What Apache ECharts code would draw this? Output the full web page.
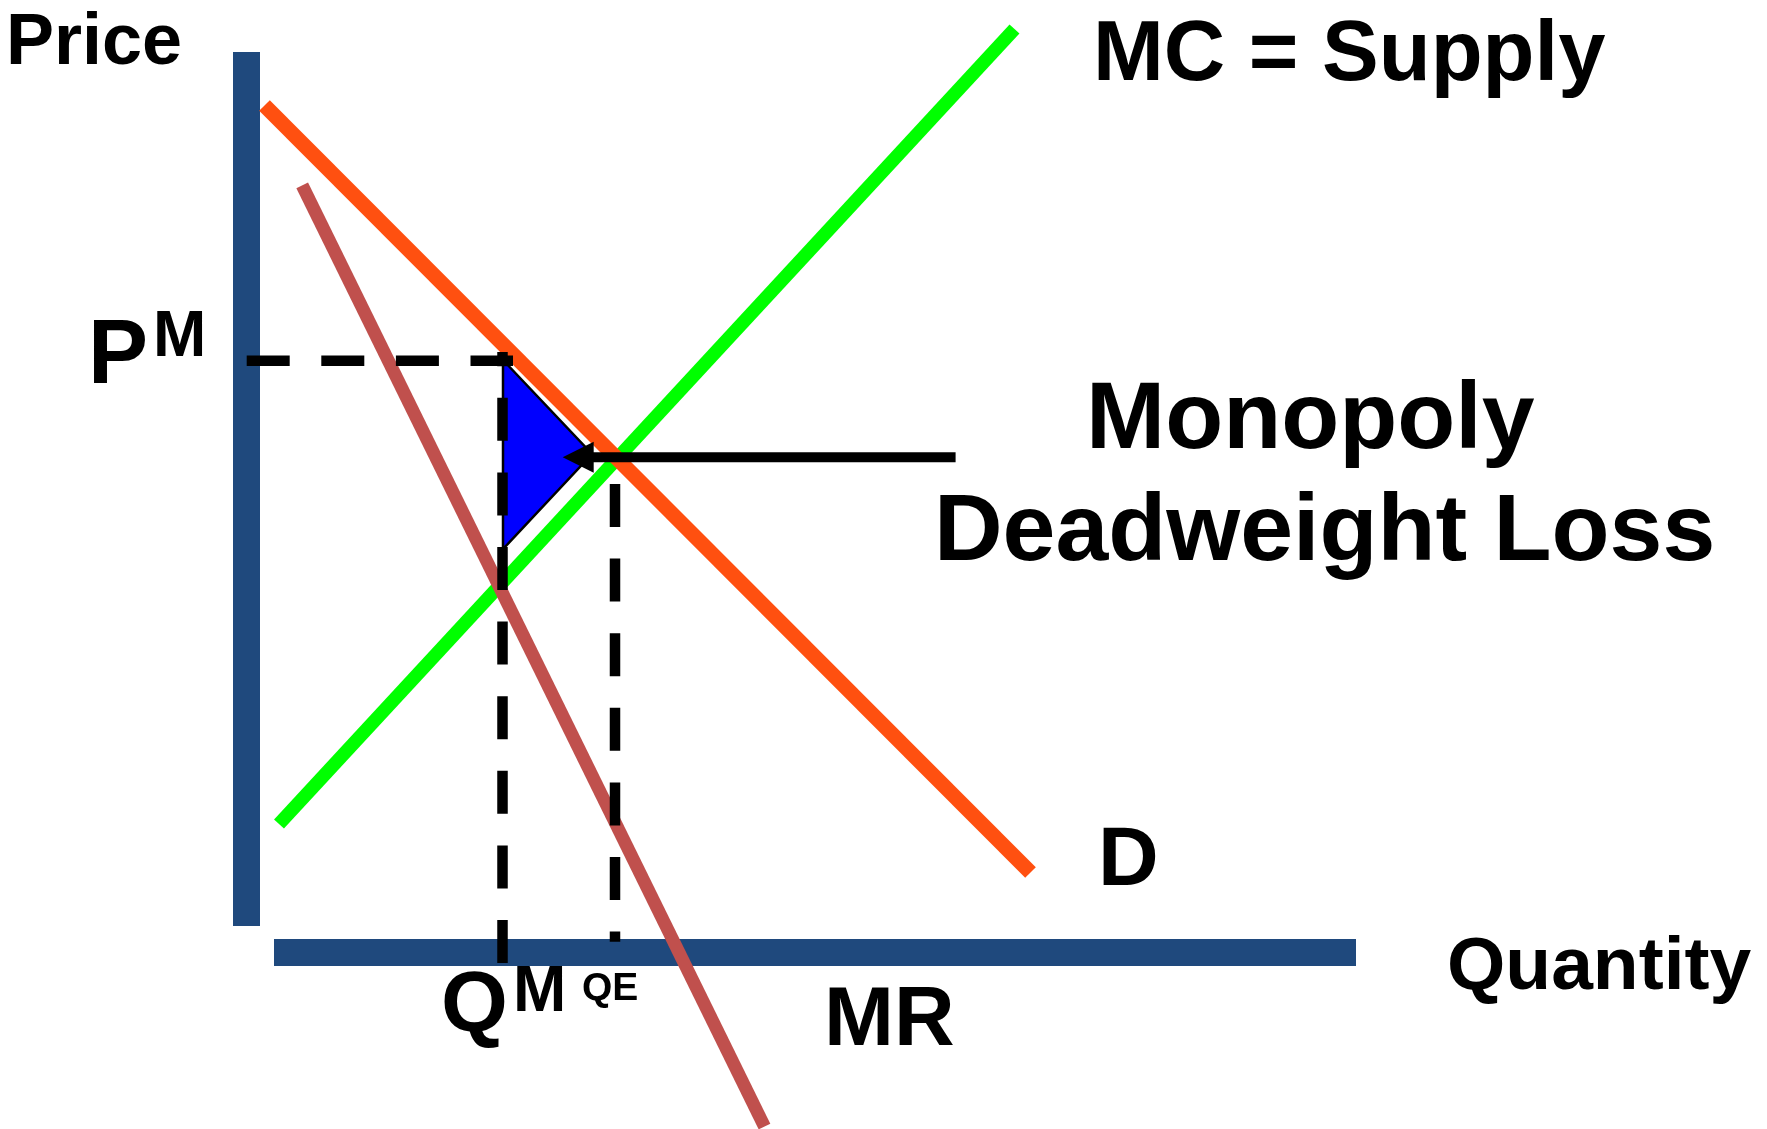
<!DOCTYPE html>
<html>
<head>
<meta charset="utf-8">
<script src="https://cdn.jsdelivr.net/npm/echarts@6/dist/echarts.min.js"></script>
<style>
html,body{margin:0;padding:0;background:#fff;}
#chart{width:1767px;height:1129px;}
</style>
</head>
<body>
<div id="chart"></div>
<script>
// Data space: origin at the corner of the two axes, 1 unit = 10 px
const quantityAxisBar = [[2.75, 0], [110.95, 0]];
const priceAxisBar = [[0, 90.05], [0, 2.65]];
const demand = [[1.8, 84.7], [78.4, 8.0]];
const marginalCost = [[3.25, 12.85], [76.8, 92.35]];
const marginalRevenue = [[5.57, 76.72], [51.8, -17.4]];
const monopolyPriceLine = [[0.02, 59.18], [26.65, 59.18]];
const monopolyQtyLine = [[25.6, -1.05], [25.6, 60.05]];
const equilibriumQtyLine = [[36.85, 46.85], [36.85, 1.08]];
const deadweightLoss = [[25.65, 59.25], [34.55, 49.85], [25.65, 40.35]];
const arrowLine = [[70.91, 49.52], [31.62, 49.52]];

const FONT = '"Liberation Sans", Arial, sans-serif';
const labels = [
  {text: 'Price', x: 6, y: 44, size: 72},
  {text: 'MC = Supply', x: 1093, y: 57, size: 85},
  {text: 'Monopoly', x: 1086, y: 422, size: 95},
  {text: 'Deadweight Loss', x: 934, y: 534, size: 95},
  {text: 'D', x: 1098, y: 862, size: 84},
  {text: 'Quantity', x: 1447, y: 968, size: 75},
  {text: 'MR', x: 824, y: 1022, size: 84},
  {text: 'Q', x: 441, y: 1007, size: 86},
  {text: 'M', x: 513, y: 993, size: 64},
  {text: 'QE', x: 582, y: 989, size: 39},
  {text: 'P', x: 88, y: 358, size: 90},
  {text: 'M', x: 153, y: 338, size: 64}
];

const chart = echarts.init(document.getElementById('chart'), null, {renderer: 'canvas'});

function lineSeries(data, color, width, dash, z) {
  return {
    type: 'line', data: data, symbol: 'none', clip: false, silent: true, z: z,
    lineStyle: {color: color, width: width, type: dash || 'solid', cap: 'butt'},
    animation: false
  };
}
const DASH = [43, 31.6];

chart.setOption({
  animation: false,
  backgroundColor: '#ffffff',
  grid: {left: 0, right: 0, top: 0, bottom: 0, containLabel: false},
  xAxis: {type: 'value', min: -24.65, max: 152.05, show: false},
  yAxis: {type: 'value', min: -17.65, max: 95.25, show: false},
  series: [
    lineSeries(priceAxisBar, '#1F497D', 27, null, 1),
    lineSeries(quantityAxisBar, '#1F497D', 27, null, 1),
    lineSeries(marginalCost, '#00FF00', 13.5, null, 2),
    lineSeries(demand, '#FF5010', 15, null, 3),
    lineSeries(marginalRevenue, '#C0504D', 13, null, 4),
    {
      type: 'custom', z: 5, silent: true, animation: false, clip: false,
      data: [[0, 0]],
      renderItem: function (params, api) {
        const pts = deadweightLoss.map(function (p) { return api.coord(p); });
        return {type: 'polygon', shape: {points: pts},
          style: {fill: '#0000FF', stroke: '#000000', lineWidth: 2.5, lineJoin: 'miter'}};
      }
    },
    lineSeries(monopolyPriceLine, '#000000', 10.5, DASH, 6),
    lineSeries(monopolyQtyLine, '#000000', 10.5, DASH, 6),
    lineSeries(equilibriumQtyLine, '#000000', 10.5, DASH, 6),
    {
      type: 'custom', z: 7, silent: true, animation: false, clip: false,
      data: [[0, 0]],
      renderItem: function (params, api) {
        const tail = api.coord(arrowLine[0]);
        const tip = api.coord(arrowLine[1]);
        const head = 31;
        return {type: 'group', children: [
          {type: 'line', shape: {x1: tail[0], y1: tail[1], x2: tip[0] + head - 2, y2: tip[1]},
            style: {stroke: '#000000', lineWidth: 10}},
          {type: 'polygon', shape: {points: [[tip[0], tip[1]], [tip[0] + head, tip[1] - head / 2], [tip[0] + head, tip[1] + head / 2]]},
            style: {fill: '#000000'}}
        ]};
      }
    }
  ],
  graphic: labels.map(function (l) {
    return {
      type: 'text', x: l.x, y: l.y, z: 100, silent: true,
      style: {text: l.text, font: 'bold ' + l.size + 'px ' + FONT, fill: '#000000',
        align: 'left', verticalAlign: 'middle', textAlign: 'left', textVerticalAlign: 'middle'}
    };
  })
});
</script>
</body>
</html>
